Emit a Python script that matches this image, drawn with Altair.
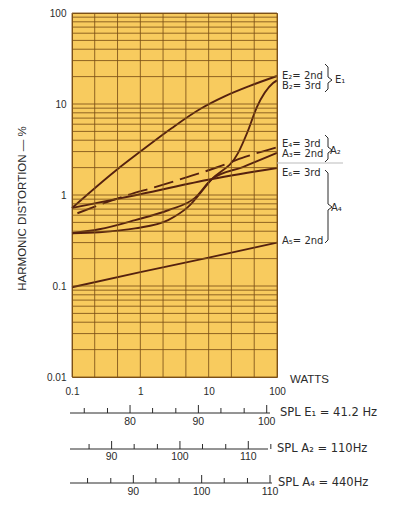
import altair as alt
import pandas as pd

# ---------------- data ----------------
e2_w = [0.1, 0.43, 1, 2.9, 7.5, 17.4, 40, 100]
e2_p = [0.72, 1.84, 3.0, 5.45, 8.8, 12.2, 15.8, 20.3]

b2_w = [0.1, 0.25, 0.84, 2.55, 5.0, 11.2, 27, 36.5, 51, 87.6, 100]
b2_p = [0.38, 0.39, 0.43, 0.53, 0.74, 1.5, 2.9, 4.8, 9.3, 17.0, 18.2]

a3_w = [0.1, 0.25, 0.84, 2.55, 6.3, 11.2, 31.6, 100]
a3_p = [0.38, 0.42, 0.53, 0.68, 0.93, 1.5, 2.03, 2.9]

e4_w = [0.12, 0.66, 1.64, 4.97, 13.7, 34, 100]
e4_p = [0.63, 1.0, 1.22, 1.58, 2.03, 2.62, 3.35]

e6_w = [0.1, 1, 11.2, 100]
e6_p = [0.72, 1.02, 1.5, 1.98]

a5_w = [0.1, 1, 10, 100]
a5_p = [0.097, 0.142, 0.205, 0.30]

x_ticks = [0.1, 1, 10, 100]
y_ticks = [0.01, 0.1, 1, 10, 100]
x_grid = [0.1, 0.215, 0.464, 1, 2.15, 4.64, 10, 21.5, 46.4, 100]
y_grid = [m * 10.0 ** k for k in (-2, -1, 0, 1) for m in range(1, 10)] + [100]

# SPL scales: (major ticks, minor ticks, anchor dB, anchor watts)
spl1_major = [80, 90, 100]
spl1_minor = [73.3, 76.7, 83.3, 86.7, 93.3, 96.7]
spl1_anchor = (100, 70.7)
spl2_major = [90, 100, 110]
spl2_minor = [86.7, 93.3, 96.7, 103.3, 106.7, 113.3]
spl2_anchor = (110, 38.0)
spl3_major = [90, 100, 110]
spl3_minor = [83.3, 86.7, 93.3, 96.7, 103.3, 106.7]
spl3_anchor = (110, 79.0)

# ---------------- styles ----------------
W, H = 205, 364
YELLOW = "#f8cb5e"
GRID = "#7d5118"
CURVE = "#55210f"
INK = "#2b2b2b"
FONT = "Liberation Sans"
LFONT = "DejaVu Sans"

xs = alt.Scale(type="log", domain=[0.1, 100], nice=False)
ys = alt.Scale(type="log", domain=[0.01, 100], nice=False)

xaxis = alt.Axis(values=x_ticks, format="~g", ticks=False, domain=False, grid=False, labelPadding=9,
                 labelFlush=False, labelFont=FONT, labelFontSize=10, labelColor=INK, title=None)
yaxis = alt.Axis(values=y_ticks, format="~g", ticks=False, domain=False, grid=False, labelPadding=6,
                 labelFont=FONT, labelFontSize=10, labelColor=INK,
                 title="HARMONIC DISTORTION — %", titleX=-50, titleY=195, titleAngle=-90,
                 titleAlign="center", titleBaseline="middle", titleFont=FONT, titleFontSize=11.5,
                 titleFontWeight="normal", titleColor=INK)

rows = []
for name, ws, ps in [("E2", e2_w, e2_p), ("B2", b2_w, b2_p), ("A3", a3_w, a3_p),
                     ("E4", e4_w, e4_p), ("E6", e6_w, e6_p), ("A5", a5_w, a5_p)]:
    for w, p in zip(ws, ps):
        rows.append({"series": name, "w": w, "p": p})
curves = pd.DataFrame(rows)

one = pd.DataFrame({"k": [0]})

solid = alt.Chart(curves).transform_filter(alt.datum.series != "E4").mark_line(
    color=CURVE, strokeWidth=1.9, interpolate="monotone").encode(
    x=alt.X("w:Q", scale=xs, axis=xaxis), y=alt.Y("p:Q", scale=ys, axis=yaxis),
    detail="series:N")
dashed = alt.Chart(curves).transform_filter(alt.datum.series == "E4").mark_line(
    color=CURVE, strokeWidth=1.9, interpolate="monotone", strokeDash=[20, 7]).encode(
    x=alt.X("w:Q", scale=xs, axis=xaxis), y=alt.Y("p:Q", scale=ys, axis=yaxis))

vgrid = alt.Chart(pd.DataFrame({"w": x_grid})).mark_rule(color=GRID, strokeWidth=1, opacity=0.85).encode(
    x=alt.X("w:Q", scale=xs, axis=xaxis), y=alt.value(0), y2=alt.value(H))
hgrid = alt.Chart(pd.DataFrame({"p": y_grid})).mark_rule(color=GRID, strokeWidth=1, opacity=0.85).encode(
    y=alt.Y("p:Q", scale=ys, axis=yaxis), x=alt.value(0), x2=alt.value(W))


def txt(s, x, y, size=10, align="left", font=LFONT):
    return alt.Chart(one).mark_text(text=s, align=align, baseline="middle", fontSize=size,
                                    font=font, color=INK).encode(x=alt.value(x), y=alt.value(y))


def seg(x1, y1, x2, y2, color=INK, w=1):
    return alt.Chart(one).mark_rule(color=color, strokeWidth=w).encode(
        x=alt.value(x1), y=alt.value(y1), x2=alt.value(x2), y2=alt.value(y2))


def brace(x0, yt, ym, yb):
    return [seg(x0 - 3, yt, x0, yt + 3), seg(x0, yt + 3, x0, ym - 3),
            seg(x0, ym - 3, x0 + 4, ym), seg(x0 + 4, ym, x0, ym + 3),
            seg(x0, ym + 3, x0, yb - 3), seg(x0, yb - 3, x0 - 3, yb)]


def spl_scale(major, minor, anchor, line_y, x_end, label_y):
    db0, w0 = anchor
    dmaj = pd.DataFrame({"spl": major, "w": [w0 * 10 ** ((d - db0) / 10) for d in major]})
    dmin = pd.DataFrame({"spl": minor, "w": [w0 * 10 ** ((d - db0) / 10) for d in minor]})
    out = [seg(-2, line_y, x_end, line_y)]
    out.append(alt.Chart(dmaj).mark_rule(color=INK, strokeWidth=1).encode(
        x=alt.X("w:Q", scale=xs, axis=xaxis), y=alt.value(line_y - 8), y2=alt.value(line_y)))
    out.append(alt.Chart(dmin).mark_rule(color=INK, strokeWidth=1).encode(
        x=alt.X("w:Q", scale=xs, axis=xaxis), y=alt.value(line_y - 5), y2=alt.value(line_y)))
    out.append(alt.Chart(dmaj).mark_text(color=INK, font=FONT, fontSize=10.5, baseline="middle").encode(
        x=alt.X("w:Q", scale=xs, axis=xaxis), y=alt.value(label_y), text="spl:Q"))
    return out


layers = [solid, dashed, vgrid, hgrid]
layers += [
    txt("E₂= 2nd", 210, 63), txt("B₂= 3rd", 210, 73),
    txt("E₄= 3rd", 210, 131), txt("A₃= 2nd", 210, 141),
    txt("E₆= 3rd", 210, 160), txt("A₅= 2nd", 210, 228),
    txt("E₁", 263, 67), txt("A₂", 258, 138), txt("A₄", 259, 195),
    seg(205, 150, 271, 150, color="#bbbbbb"),
]
layers += brace(256, 51, 67, 79)
layers += brace(256, 122, 137, 149)
layers += brace(256, 157, 194, 230)
layers += [txt("WATTS", 218, 367, size=11.5, font=FONT)]
layers += spl_scale(spl1_major, spl1_minor, spl1_anchor, 400, 198, 409)
layers += spl_scale(spl2_major, spl2_minor, spl2_anchor, 436, 196, 444)
layers += spl_scale(spl3_major, spl3_minor, spl3_anchor, 470, 200, 479)
layers += [txt("SPL  E₁ = 41.2 Hz", 208, 400, size=11.5),
           txt("SPL  A₂ = 110Hz", 205, 436, size=11.5),
           txt("SPL  A₄ = 440Hz", 206, 470, size=11.5)]

chart = alt.layer(*layers).properties(
    width=W, height=H,
    padding={"left": 64, "top": 5, "right": 110, "bottom": 120},
    autosize=alt.AutoSizeParams(type="none"),
).configure_view(fill=YELLOW, stroke=GRID, strokeWidth=1)

chart.save("out.html", embed_options={"renderer": "svg", "actions": False})
